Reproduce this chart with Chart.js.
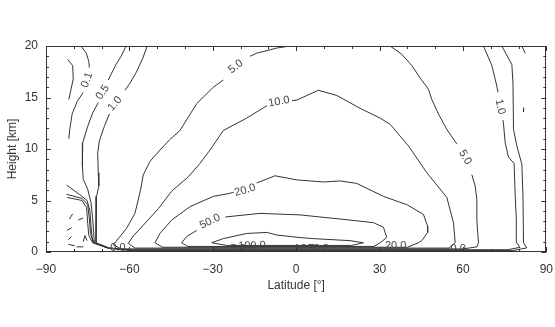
<!DOCTYPE html>
<html>
<head>
<meta charset="utf-8">
<script src="https://cdn.jsdelivr.net/npm/chart.js@4.4.1/dist/chart.umd.min.js"></script>
<style>
  body { margin: 0; background: #fff; }
  #wrap { width: 555px; height: 327px; }
</style>
</head>
<body>
<div id="wrap"><canvas id="myChart" width="555" height="327"></canvas></div>
<script>
const latTicks = [-90, -60, -30, 0, 30, 60, 90];
const heightTicks = [0, 5, 10, 15, 20];

// contour lines as [latitude, height km]; null breaks the line where a label sits
const c01 = [[-77.4,20],[-75.5,19.3],[-74.6,18.5],[-74.4,17.9],null,[-76.6,15.5],[-78.8,14.6],[-80.6,13.4],[-81.4,12.0],[-81.8,11.0]];
const c01West = [[-82.2,18.7],[-80.4,18.1],[-80.2,16.8],[-81,15.8],[-81.8,14.8]];
const c01East = [[81.2,20],[82.4,19.3]];
const c01Dash = [[81.8,14.0],[81.8,13.6]];

const c05 = [[-61.2,20],[-63,19.0],[-64.8,18.2],[-66.6,17.25],[-67.6,16.7],null,[-71.2,14.5],[-73.2,13.5],[-75,12.2],[-76.8,10.6],[-77,9.6],[-76.8,8.35],[-76.6,7.06],[-75,6.1],[-73.8,4.8],[-73.2,3.2],[-72.6,0.9],[-67.5,0.35],[-60,0.14],[78,0.14],[83,0.4],[81.8,0.9],[81.6,5.4],[81.2,8.5],[79.4,10.3],[78.2,11.9],[78,16.4],[77.6,18.2],[74,20]];

const c1 = [[-53.6,20],[-55.2,18.8],[-57.6,17.4],[-60,16.3],[-61.6,15.7],null,[-67.2,13.4],[-69,12.2],[-70.8,10.8],[-71.4,9.6],[-71.2,7.7],[-71,6.4],[-71.8,5.4],[-72,3.8],[-72,1.9],[-72,0.9],[-67.5,0.42],[-60,0.22],[76,0.22],[80.5,0.45],[79.4,0.9],[79.2,3.2],[78.8,5.4],[78.4,8.6],[76.4,9.2],[75.2,10.6],[74.6,12.4],[74.4,12.8],null,[72.6,15.5],[72.2,16.1],[70.4,18.1],[67.4,20]];

const c5 = [[-2.2,20],[-7,19.8],[-14.2,19.3],[-16.6,19.0],null,[-26.2,16.7],[-29.8,16.0],[-35.8,14.4],[-41.8,11.8],[-45.5,10.9],[-49,9.9],[-52.6,8.8],[-55,7.5],[-56,6.0],[-58,3.75],[-61,2.3],[-64,1.3],[-65.8,0.7],[-63,0.3],[60,0.3],[65,0.5],[65.6,0.9],[65.3,1.9],[65,3.2],[65,5.1],[64.4,6.4],[63.2,7.5],null,[57.8,10.5],[54.2,11.9],[51.2,13.4],[48.8,14.8],[47.6,15.8],[44.6,16.9],[41.6,18.1],[38,19.2],[33.8,20]];

const c10 = [[-60.4,0.84],[-58.6,1.55],[-55,2.6],[-49.6,4.2],[-44.8,5.9],[-38.8,7.3],[-34.6,8.6],[-31,9.9],[-26.2,11.8],[-17.8,13.0],[-13,13.8],[-10.5,14.2],null,[-1.5,14.7],[0.2,14.75],[8,15.7],[14.6,15.2],[23,13.95],[30.2,13.0],[33.8,12.4],[40.4,10.3],[47,7.7],[54.2,5.3],[56.6,2.85],[57.2,0.9],[55,0.38],[-58,0.38],[-60.4,0.84]];

const c20 = [[-50.8,0.9],[-49,1.8],[-44.8,3.1],[-38.2,4.4],[-29.8,5.4],[-23.8,5.7],[-22.5,5.8],null,[-14.2,6.7],[-7.6,7.4],[0.2,7.0],[9.8,6.8],[15.8,6.9],[21.8,6.66],[31.4,5.4],[39.8,4.6],[45.8,3.65],[47.3,2.5],[47.3,1.9],[45.2,1.1],[44,0.9],[40,0.46],[-48,0.46],[-50.8,0.9]];

const c50 = [[-41.2,0.9],[-39.4,1.5],[-35.8,2.1],null,[-25.5,3.4],[-13,3.75],[1.4,3.6],[15.8,3.2],[19.4,3.1],[27.8,2.85],[31.4,2.4],[32.6,1.4],[30.2,0.9],[28,0.54],[-39,0.54],[-41.2,0.9]];

const c100 = [[-30.4,0.9],[-26.2,1.3],[-17.8,1.8],[-10.6,1.9],[-7,1.65],[1.4,1.4],[6.2,1.3],[19.4,1.1],[24.2,0.9],[20,0.64],[-25,0.64],[-30.4,0.9]];

// tangle over the Antarctic edge
const pole1 = [[-82.6,6.5],[-78,5.6],[-75.2,5.0],[-74.2,4.0],[-73.8,2.5],[-73.4,1.4],[-72.8,0.9],[-67.5,0.4]];
const pole2 = [[-82.6,5.6],[-77,5.2],[-75,4.6],[-74.4,3.2],[-74,1.8],[-73,0.9],[-67.5,0.38]];
const pole3 = [[-82.4,5.3],[-77,5.0],[-75.4,4.3],[-75,2.8],[-74.6,1.6],[-73.2,0.9],[-67.5,0.36]];
const poleBits = [
  [[-82.5,2.1],[-80.8,2.35]],
  [[-78.4,3.1],[-76.6,3.3]],
  [[-81.6,3.2],[-80.4,3.7]],
  [[-82,1.2],[-80.8,1.5]],
  [[-82,0.75],[-79.6,0.6]],
  [[-79,0.5],[-76.6,0.5]],
  [[-76.6,1.0],[-76,1.6],[-75.2,1.1]]
];

const contourLabels = [
  { text: '0.1', lat: -75.2, h: 16.7, rot: -70 },
  { text: '0.5', lat: -69.6, h: 15.5, rot: -55 },
  { text: '1.0', lat: -65.2, h: 14.4, rot: -49 },
  { text: '5.0', lat: -21.8, h: 18.0, rot: -38 },
  { text: '10.0', lat: -6.2, h: 14.6, rot: -10 },
  { text: '20.0', lat: -18.4, h: 6.0, rot: -16 },
  { text: '50.0', lat: -31, h: 2.95, rot: -26 },
  { text: '5.0', lat: 60.8, h: 9.2, rot: 60 },
  { text: '1.0', lat: 73.4, h: 14.1, rot: 76 },
  { text: '0.0', lat: -64.1, h: 0.35, rot: 0 },
  { text: '5.0', lat: -20.9, h: 0.3, rot: 0 },
  { text: '100.0', lat: -15.9, h: 0.6, rot: -2 },
  { text: '10.0', lat: 3.2, h: 0.3, rot: 0 },
  { text: '50.0', lat: 7.9, h: 0.3, rot: 0 },
  { text: '20.0', lat: 35.8, h: 0.6, rot: 0 },
  { text: '0.0', lat: 58.3, h: 0.3, rot: 0 }
];

const lineColor = '#333';

// split a polyline on nulls into separate datasets
function toDatasets(line) {
  const out = [];
  let cur = [];
  line.forEach(p => {
    if (p === null) {
      if (cur.length) out.push(cur);
      cur = [];
    } else {
      cur.push({ x: p[0], y: p[1] });
    }
  });
  if (cur.length) out.push(cur);
  return out.map(data => ({
    data,
    showLine: true,
    borderColor: lineColor,
    borderWidth: 1,
    pointRadius: 0,
    tension: 0,
    fill: false
  }));
}

const allLines = [c01, c01West, c01East, c01Dash, c05, c1, c5, c10, c20, c50, c100, pole1, pole2, pole3, ...poleBits];
const datasets = allLines.flatMap(toDatasets);

const frameAndLabels = {
  id: 'frameAndLabels',
  afterDatasetsDraw(chart) {
    const { ctx, chartArea: a, scales: { x, y } } = chart;
    ctx.save();
    ctx.fillStyle = '#444';
    ctx.font = '11px "Liberation Sans", Arial, sans-serif';
    ctx.textAlign = 'center';
    ctx.textBaseline = 'middle';
    contourLabels.forEach(l => {
      ctx.save();
      ctx.translate(x.getPixelForValue(l.lat), y.getPixelForValue(l.h));
      ctx.rotate(l.rot * Math.PI / 180);
      ctx.fillText(l.text, 0, 0);
      ctx.restore();
    });

    ctx.strokeStyle = '#333';
    ctx.lineWidth = 1;
    ctx.strokeRect(Math.round(a.left) + 0.5, Math.round(a.top) + 0.5, Math.round(a.width) - 1, Math.round(a.height) - 1);
    ctx.beginPath();
    for (let v = -90; v <= 90; v += 10) {
      const px = Math.round(x.getPixelForValue(v)) + 0.5;
      const len = v % 30 === 0 ? 5 : 3;
      ctx.moveTo(px, a.bottom); ctx.lineTo(px, a.bottom - len);
      ctx.moveTo(px, a.top); ctx.lineTo(px, a.top + len);
    }
    for (let v = 0; v <= 20; v += 1) {
      const py = Math.round(y.getPixelForValue(v)) + 0.5;
      const len = v % 5 === 0 ? 5 : 3;
      ctx.moveTo(a.left, py); ctx.lineTo(a.left + len, py);
      ctx.moveTo(a.right, py); ctx.lineTo(a.right - len, py);
    }
    ctx.stroke();
    ctx.restore();
  }
};

const tickFont = { family: '"Liberation Sans", Arial, sans-serif', size: 12 };

new Chart(document.getElementById('myChart'), {
  type: 'scatter',
  data: { datasets },
  options: {
    responsive: false,
    animation: false,
    devicePixelRatio: 1,
    layout: { padding: { left: 0, right: 0, top: 46, bottom: 0 } },
    plugins: { legend: { display: false }, tooltip: { enabled: false } },
    scales: {
      x: {
        type: 'linear',
        min: -90,
        max: 90,
        afterBuildTicks: s => { s.ticks = latTicks.map(v => ({ value: v })); },
        afterFit: s => { s.height = 75; },
        grid: { display: false, drawTicks: true, tickLength: 8 },
        border: { display: false },
        ticks: {
          color: '#333',
          font: tickFont,
          padding: 2,
          maxRotation: 0,
          callback: v => String(v).replace('-', '\u2212')
        },
        title: {
          display: true,
          text: 'Latitude [°]',
          color: '#333',
          font: tickFont,
          padding: { top: 0, bottom: 34 }
        }
      },
      y: {
        type: 'linear',
        min: 0,
        max: 20,
        afterBuildTicks: s => { s.ticks = heightTicks.map(v => ({ value: v })); },
        afterFit: s => { s.width = 46; },
        grid: { display: false, drawTicks: false },
        border: { display: false },
        ticks: { color: '#333', font: tickFont, padding: 8 },
        title: {
          display: true,
          text: 'Height [km]',
          color: '#333',
          font: tickFont,
          padding: { top: 5, bottom: 0 }
        }
      }
    }
  },
  plugins: [frameAndLabels]
});
</script>
</body>
</html>
